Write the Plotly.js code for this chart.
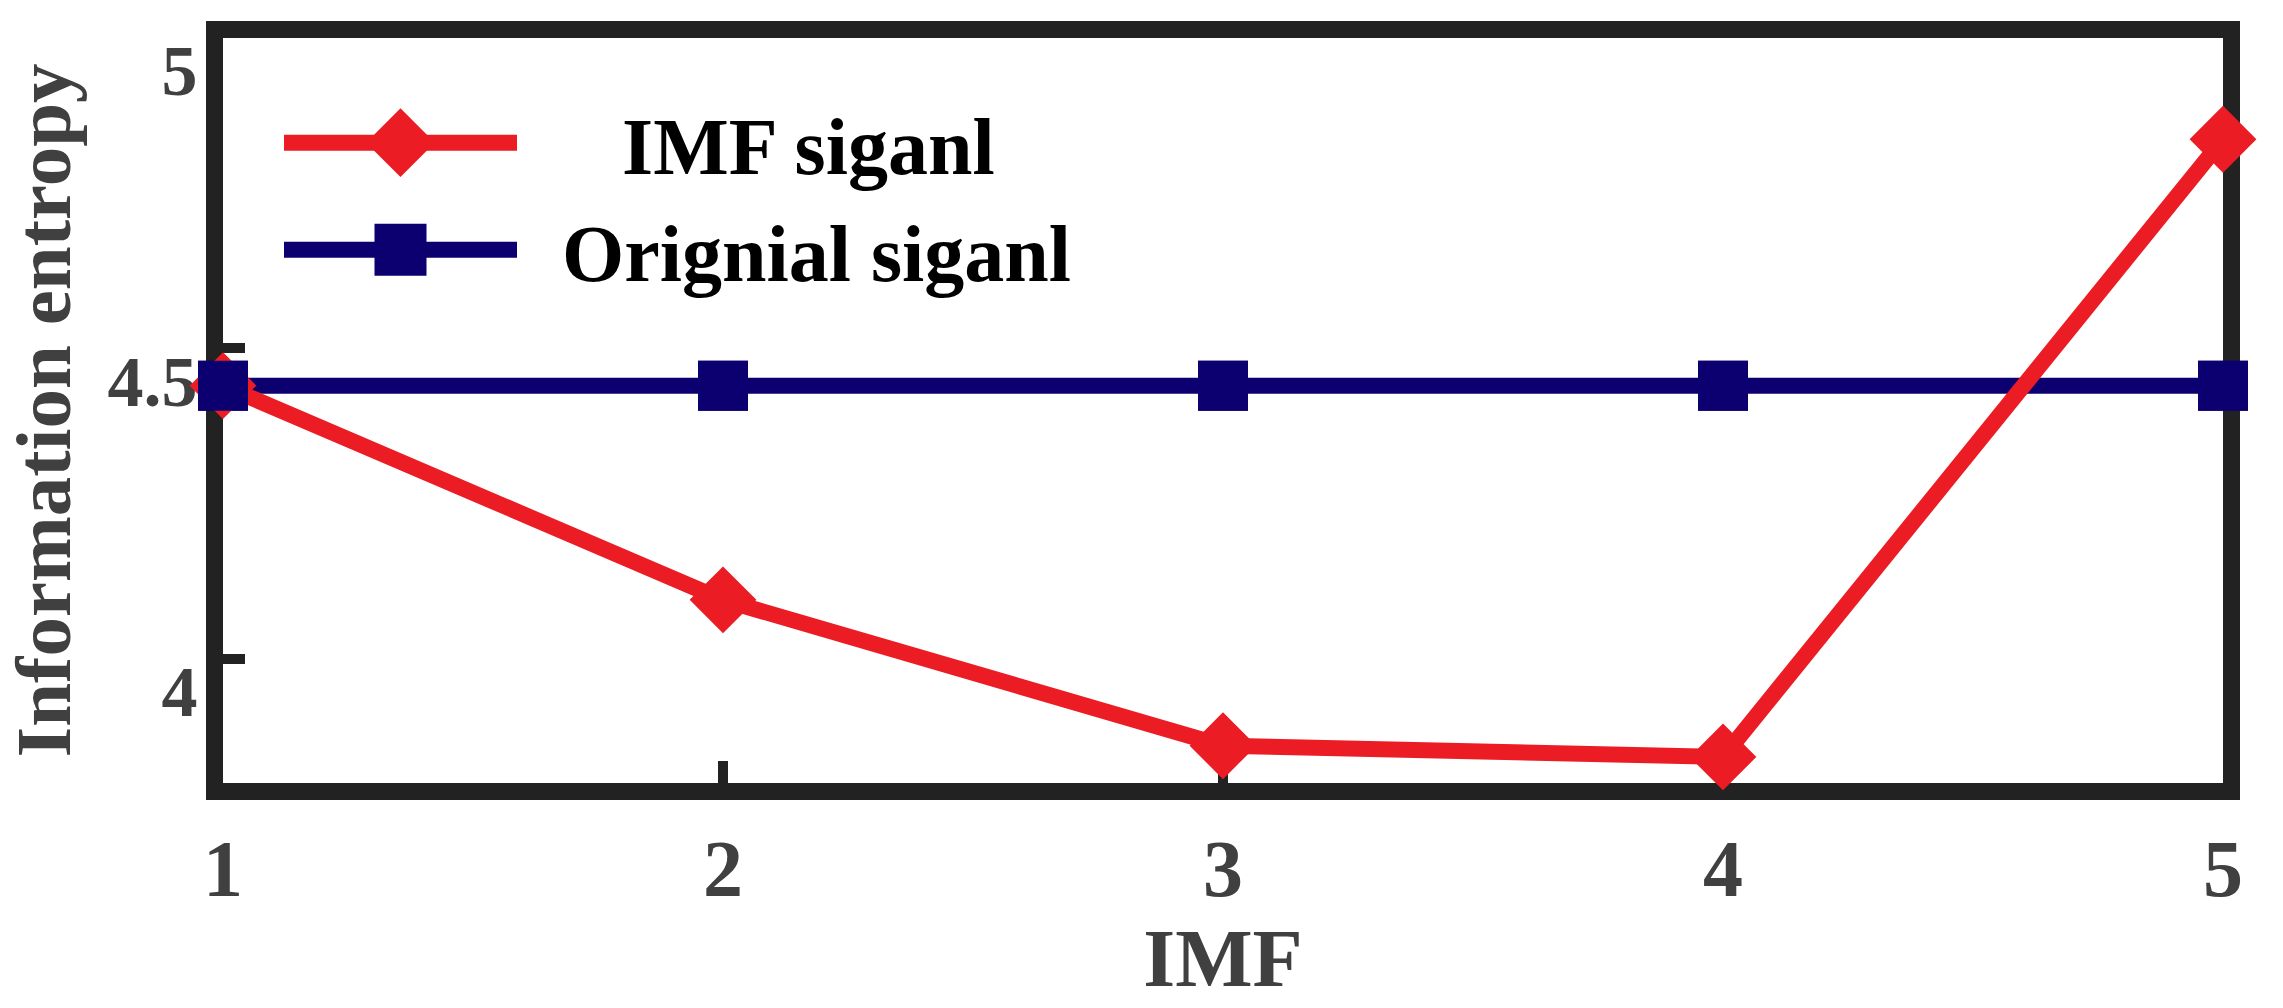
<!DOCTYPE html>
<html>
<head>
<meta charset="utf-8">
<script src="https://cdn.plot.ly/plotly-3.0.1.min.js"></script>
<style>html,body{margin:0;padding:0;background:#ffffff;}</style>
</head>
<body>
<div id="chart" style="width:2283px;height:1008px;"></div>
<script>
// ---- data ----
const imfIndex = [1, 2, 3, 4, 5];
const imfEntropy = [4.44, 4.095, 3.86, 3.842, 4.837];
const originalEntropy = [4.44, 4.44, 4.44, 4.44, 4.44];
const seriesNames = ['IMF siganl', 'Orignial siganl'];
const xTickVals = [1, 2, 3, 4, 5];
const xTickText = ['1', '2', '3', '4', '5'];
const yTickVals = [4, 4.5, 5];
const yTickText = ['4', '4.5', '5'];
const xTitle = 'IMF';
const yTitle = 'Information entropy';

const RED = '#ec1c24';
const NAVY = '#0c0070';
const AX = '#222222';
const SERIF = 'Liberation Serif, Times New Roman, serif';
const NB = '\u00a0';

const traces = [
  { // original signal line (+ legend entry)
    x: imfIndex, y: originalEntropy, name: NB.repeat(2) + seriesNames[1], type: 'scatter', mode: 'lines+markers',
    line: {color: NAVY, width: 16},
    marker: {symbol: 'square', size: 46, color: NAVY, line: {color: NAVY, width: 4}},
    legendrank: 2, cliponaxis: false
  },
  { // IMF signal
    x: imfIndex, y: imfEntropy, name: NB.repeat(5) + seriesNames[0], type: 'scatter', mode: 'lines+markers',
    line: {color: RED, width: 16},
    marker: {symbol: 'diamond', size: 47, color: RED, line: {color: RED, width: 4}},
    legendrank: 1, cliponaxis: false
  },
  { // original signal markers drawn on top
    x: imfIndex, y: originalEntropy, name: seriesNames[1], type: 'scatter', mode: 'markers',
    marker: {symbol: 'square', size: 46, color: NAVY, line: {color: NAVY, width: 4}},
    showlegend: false, cliponaxis: false, hoverinfo: 'skip'
  }
];

const layout = {
  width: 2283, height: 1008,
  margin: {l: 223, r: 60, t: 38, b: 225},
  paper_bgcolor: '#ffffff', plot_bgcolor: '#ffffff',
  font: {family: SERIF, color: '#404040'},
  showlegend: true,
  legend: {
    x: 0.028, y: 0.938, xanchor: 'left', yanchor: 'top',
    bgcolor: 'rgba(0,0,0,0)', borderwidth: 0,
    font: {family: SERIF, size: 80, color: '#000000', weight: 'bold'},
    itemwidth: 233, traceorder: 'normal'
  },
  xaxis: {
    range: [1, 5], tickmode: 'array', tickvals: xTickVals, ticktext: xTickText,
    ticks: 'inside', ticklen: 22, tickwidth: 10, tickcolor: AX,
    showline: true, linewidth: 17, linecolor: AX, mirror: true,
    showgrid: false, zeroline: false, layer: 'below traces',
    ticklabeloverflow: 'allow',
    tickfont: {family: SERIF, size: 80, color: '#404040', weight: 'bold'},
    title: {text: xTitle, font: {family: SERIF, size: 82, color: '#404040', weight: 'bold'}, standoff: 20}
  },
  yaxis: {
    range: [3.8, 5.0001], tickmode: 'array', tickvals: yTickVals, ticktext: yTickText,
    ticks: 'inside', ticklen: 22, tickwidth: 10, tickcolor: AX,
    showline: true, linewidth: 17, linecolor: AX, mirror: true,
    showgrid: false, zeroline: false, layer: 'below traces',
    ticklabeloverflow: 'allow',
    tickfont: {family: SERIF, size: 72, color: '#404040', weight: 'bold'},
    ticklabelshift: 32, ticklabelstandoff: -6,
    title: {text: yTitle, font: {family: SERIF, size: 79, color: '#404040', weight: 'bold'}, standoff: 20}
  }
};

Plotly.newPlot('chart', traces, layout, {displayModeBar: false, staticPlot: true}).then(function (gd) {
  // enlarge the legend symbols (Plotly caps legend marker size / line width)
  gd.querySelectorAll('.legend .traces').forEach(function (t) {
    var d = t.__data__ && t.__data__[0] && t.__data__[0][0];
    var sym = d && d.trace && d.trace.marker ? d.trace.marker.symbol : '';
    var k = sym === 'diamond' ? 3.0 : 2.6;
    t.querySelectorAll('.legendlines path').forEach(function (p) { p.style.strokeWidth = '16px'; });
    t.querySelectorAll('.legendpoints path.scatterpts').forEach(function (p) {
      var tr = p.getAttribute('transform') || '';
      p.setAttribute('transform', tr + ' scale(' + k + ')');
    });
  });
});
</script>
</body>
</html>
